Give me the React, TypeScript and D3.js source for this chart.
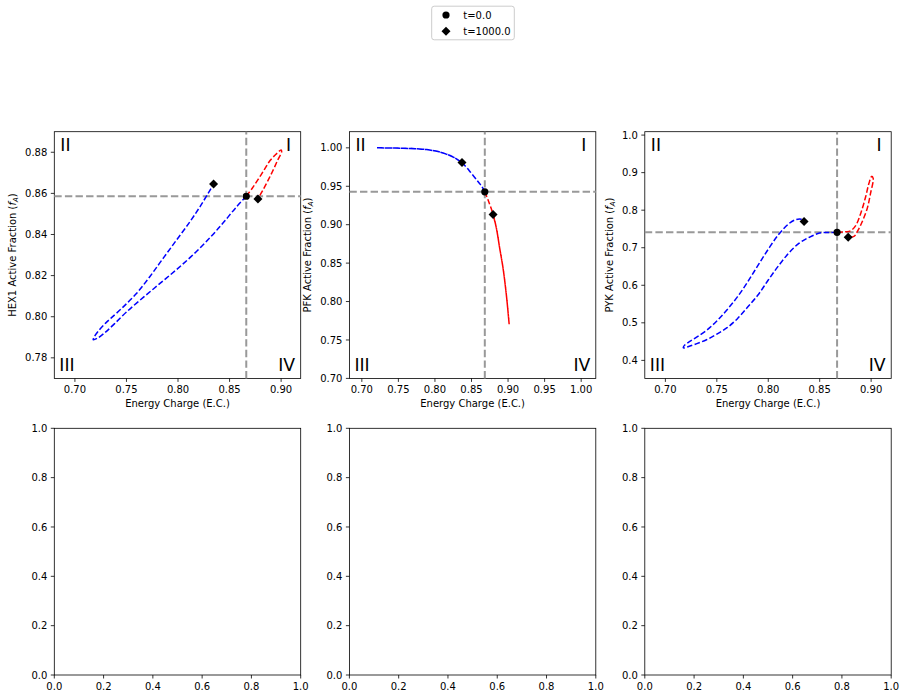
import React from "react";
import * as d3 from "d3";

type Pt = [number, number];

const ENZYMES = ["HEX1", "PFK", "PYK"];
const X_LABEL = "Energy Charge (E.C.)";
const LEGEND_LABELS = ["t=0.0", "t=1000.0"];

// Trajectories: first point = t=0.0, last point = t=1000.0
const hexBlue: Pt[] = [
  [0.8662, 0.8586], [0.857, 0.8536], [0.844, 0.8458], [0.8311, 0.8385], [0.8149, 0.8303],
  [0.7987, 0.823], [0.7825, 0.8162], [0.7663, 0.8094], [0.7502, 0.8024], [0.738, 0.7964],
  [0.729, 0.7922], [0.722, 0.7896], [0.7178, 0.7888], [0.719, 0.7904], [0.724, 0.7938],
  [0.73, 0.797], [0.735, 0.7993], [0.7469, 0.8048], [0.7599, 0.8114], [0.7728, 0.8196],
  [0.7857, 0.8285], [0.7987, 0.8374], [0.8117, 0.8463], [0.8214, 0.8536], [0.8311, 0.8616],
  [0.8345, 0.8645],
];
const hexRed: Pt[] = [
  [0.8662, 0.8586], [0.872, 0.8625], [0.878, 0.867], [0.884, 0.8718], [0.8893, 0.876],
  [0.895, 0.879], [0.9, 0.8811], [0.9005, 0.8803], [0.8965, 0.876], [0.8915, 0.8705],
  [0.8865, 0.8655], [0.8815, 0.8608], [0.8775, 0.8573],
];
const pfkBlue: Pt[] = [
  [0.8682, 0.9428], [0.864, 0.95], [0.8591, 0.9558], [0.85, 0.9667], [0.8377, 0.98],
  [0.825, 0.988], [0.8068, 0.9945], [0.7886, 0.9977], [0.7659, 0.9992], [0.7431, 0.9998],
  [0.7205, 1.0], [0.7431, 0.9998], [0.7659, 0.9992], [0.7886, 0.9977], [0.8068, 0.9945],
  [0.825, 0.988], [0.837, 0.9808],
];
const pfkRed: Pt[] = [
  [0.8682, 0.9428], [0.8727, 0.932], [0.8795, 0.9135], [0.8841, 0.8951], [0.8886, 0.8691],
  [0.8932, 0.8431], [0.8977, 0.8084], [0.9015, 0.7705], [0.8977, 0.8084], [0.8932, 0.8431],
  [0.8886, 0.8691], [0.8841, 0.8951], [0.8795, 0.9133],
];
const pykBlue: Pt[] = [
  [0.8669, 0.7409], [0.86, 0.7405], [0.85, 0.739], [0.84, 0.728], [0.83, 0.712],
  [0.82, 0.686], [0.81, 0.652], [0.8, 0.614], [0.79, 0.574], [0.78, 0.542],
  [0.77, 0.511], [0.76, 0.487], [0.75, 0.47], [0.74, 0.455], [0.73, 0.444],
  [0.722, 0.4365], [0.7175, 0.4335], [0.7185, 0.44], [0.723, 0.449], [0.73, 0.461],
  [0.74, 0.48], [0.75, 0.505], [0.76, 0.535], [0.77, 0.569], [0.78, 0.609],
  [0.79, 0.653], [0.8, 0.696], [0.81, 0.735], [0.82, 0.764], [0.827, 0.775],
  [0.832, 0.776], [0.8348, 0.77],
];
const pykRed: Pt[] = [
  [0.8669, 0.7409], [0.8751, 0.7425], [0.88, 0.745], [0.8848, 0.758], [0.8897, 0.79],
  [0.8946, 0.835], [0.8978, 0.871], [0.9005, 0.89], [0.902, 0.8846], [0.8994, 0.8447],
  [0.8962, 0.8047], [0.8913, 0.7692], [0.8865, 0.7426], [0.8833, 0.73], [0.8777, 0.7276],
];

const xTicksEC = [0.7, 0.75, 0.8, 0.85, 0.9];
const xTicksPFK = [0.7, 0.75, 0.8, 0.85, 0.9, 0.95, 1.0];
const yTicksHEX = [0.78, 0.8, 0.82, 0.84, 0.86, 0.88];
const yTicksPFK = [0.7, 0.75, 0.8, 0.85, 0.9, 0.95, 1.0];
const yTicksPYK = [0.4, 0.5, 0.6, 0.7, 0.8, 0.9, 1.0];
const unitTicks = [0, 0.2, 0.4, 0.6, 0.8, 1.0];

const QUADRANTS = ["I", "II", "III", "IV"];

// layout
const W = 906;
const H = 699;
const COL_LEFT = [54.3, 349.4, 644.8];
const AX_W = 246.4;
const ROW_TOP = [131.7, 428.3];
const AX_H = 246.7;
const FONT = "DejaVu Sans";
const GRAY = "#999999";

interface TopPanel {
  name: string;
  xDomain: [number, number];
  yDomain: [number, number];
  xTicks: number[];
  yTicks: number[];
  xFmt: (v: number) => string;
  yFmt: (v: number) => string;
  blue: Pt[];
  red: Pt[];
}

const f2 = d3.format(".2f");
const f1 = d3.format(".1f");

const topPanels: TopPanel[] = [
  { name: ENZYMES[0], xDomain: [0.68, 0.919], yDomain: [0.77, 0.89], xTicks: xTicksEC, yTicks: yTicksHEX, xFmt: f2, yFmt: f2, blue: hexBlue, red: hexRed },
  { name: ENZYMES[1], xDomain: [0.683, 1.02], yDomain: [0.7, 1.021], xTicks: xTicksPFK, yTicks: yTicksPFK, xFmt: f2, yFmt: f2, blue: pfkBlue, red: pfkRed },
  { name: ENZYMES[2], xDomain: [0.68, 0.9195], yDomain: [0.352, 1.009], xTicks: xTicksEC, yTicks: yTicksPYK, xFmt: f2, yFmt: f1, blue: pykBlue, red: pykRed },
];

function textWidth(s: string) {
  let w = 0;
  for (const c of s) w += c === "." ? 3.18 : 6.36;
  return w;
}

function Frame({ left, top, x, y, xTicks, yTicks, xFmt, yFmt }: any) {
  const bottom = top + AX_H;
  const right = left + AX_W;
  return (
    <g>
      {xTicks.map((t: number, i: number) => (
        <g key={"xt" + i}>
          <line x1={x(t)} x2={x(t)} y1={bottom} y2={bottom + 3.5} stroke="black" strokeWidth={0.8} />
          <text x={x(t)} y={bottom + 14.8} textAnchor="middle" fontSize={10} fontFamily={FONT} fill="black">{xFmt(t)}</text>
        </g>
      ))}
      {yTicks.map((t: number, i: number) => (
        <g key={"yt" + i}>
          <line x1={left - 3.5} x2={left} y1={y(t)} y2={y(t)} stroke="black" strokeWidth={0.8} />
          <text x={left - 7} y={y(t) + 3.6} textAnchor="end" fontSize={10} fontFamily={FONT} fill="black">{yFmt(t)}</text>
        </g>
      ))}
      <rect x={left} y={top} width={right - left} height={bottom - top} fill="none" stroke="black" strokeWidth={0.8} />
    </g>
  );
}

function diamond(cx: number, cy: number, h: number) {
  return `M${cx},${cy - h}L${cx + h},${cy}L${cx},${cy + h}L${cx - h},${cy}Z`;
}

function Top({ p, col }: { p: TopPanel; col: number }) {
  const left = COL_LEFT[col];
  const top = ROW_TOP[0];
  const right = left + AX_W;
  const bottom = top + AX_H;
  const x = d3.scaleLinear().domain(p.xDomain).range([left, right]);
  const y = d3.scaleLinear().domain(p.yDomain).range([bottom, top]);
  const line = d3.line<Pt>().x((d) => x(d[0])).y((d) => y(d[1])).curve(d3.curveCatmullRom.alpha(0.5));
  const start = p.blue[0];
  const endB = p.blue[p.blue.length - 1];
  const endR = p.red[p.red.length - 1];
  const maxW = Math.max(...p.yTicks.map((t) => textWidth(p.yFmt(t))));
  const labelX = left - 7 - maxW - 8.7;
  const cy = (top + bottom) / 2;
  const qStyle = { fontSize: 17.28, fontFamily: FONT, fill: "black" } as any;
  return (
    <g>
      <Frame left={left} top={top} x={x} y={y} xTicks={p.xTicks} yTicks={p.yTicks} xFmt={p.xFmt} yFmt={p.yFmt} />
      <line x1={x(start[0])} x2={x(start[0])} y1={bottom} y2={top} stroke={GRAY} strokeWidth={2} strokeDasharray="7.4,3.2" />
      <line x1={left} x2={right} y1={y(start[1])} y2={y(start[1])} stroke={GRAY} strokeWidth={2} strokeDasharray="7.4,3.2" />
      <path d={line(p.blue) || ""} fill="none" stroke="#0000ff" strokeWidth={1.5} strokeDasharray="5.55,2.4" />
      <path d={line(p.red) || ""} fill="none" stroke="#ff0000" strokeWidth={1.5} strokeDasharray="5.55,2.4" />
      <circle cx={x(start[0])} cy={y(start[1])} r={3.6} fill="black" />
      <path d={diamond(x(endB[0]), y(endB[1]), 4.5)} fill="black" />
      <path d={diamond(x(endR[0]), y(endR[1]), 4.5)} fill="black" />
      <text x={right - 9.5} y={top + 18.8} textAnchor="end" {...qStyle}>{QUADRANTS[0]}</text>
      <text x={left + 6} y={top + 18.8} textAnchor="start" {...qStyle}>{QUADRANTS[1]}</text>
      <text x={left + 5} y={bottom - 7} textAnchor="start" {...qStyle}>{QUADRANTS[2]}</text>
      <text x={right - 5.5} y={bottom - 7} textAnchor="end" {...qStyle}>{QUADRANTS[3]}</text>
      <text x={(left + right) / 2} y={bottom + 28.8} textAnchor="middle" fontSize={10} fontFamily={FONT} fill="black">{X_LABEL}</text>
      <text transform={`translate(${labelX},${cy}) rotate(-90)`} textAnchor="middle" fontSize={10} fontFamily={FONT} fill="black">
        {p.name + " Active Fraction ("}
        <tspan fontStyle="italic">f</tspan>
        <tspan fontStyle="italic" fontSize={7} dy={1.8}>A</tspan>
        <tspan dy={-1.8}>)</tspan>
      </text>
    </g>
  );
}

function Bottom({ col }: { col: number }) {
  const left = COL_LEFT[col];
  const top = ROW_TOP[1];
  const x = d3.scaleLinear().domain([0, 1]).range([left, left + AX_W]);
  const y = d3.scaleLinear().domain([0, 1]).range([top + AX_H, top]);
  return <Frame left={left} top={top} x={x} y={y} xTicks={unitTicks} yTicks={unitTicks} xFmt={f1} yFmt={f1} />;
}

export default function App() {
  return (
    <svg width={W} height={H} style={{ position: "absolute", left: 0, top: 0, background: "white" }}>
      <rect x={0} y={0} width={W} height={H} fill="white" />
      {topPanels.map((p, i) => <Top key={i} p={p} col={i} />)}
      {[0, 1, 2].map((i) => <Bottom key={i} col={i} />)}
      <g>
        <rect x={431.7} y={6.2} width={82.6} height={33.6} rx={2.5} fill="white" fillOpacity={0.8} stroke="#cccccc" strokeWidth={1} />
        <circle cx={446} cy={15} r={3.6} fill="black" />
        <text x={463.3} y={18.6} fontSize={10} fontFamily={FONT} fill="black">{LEGEND_LABELS[0]}</text>
        <path d={diamond(446, 31.3, 4.5)} fill="black" />
        <text x={463.3} y={34.9} fontSize={10} fontFamily={FONT} fill="black">{LEGEND_LABELS[1]}</text>
      </g>
    </svg>
  );
}
